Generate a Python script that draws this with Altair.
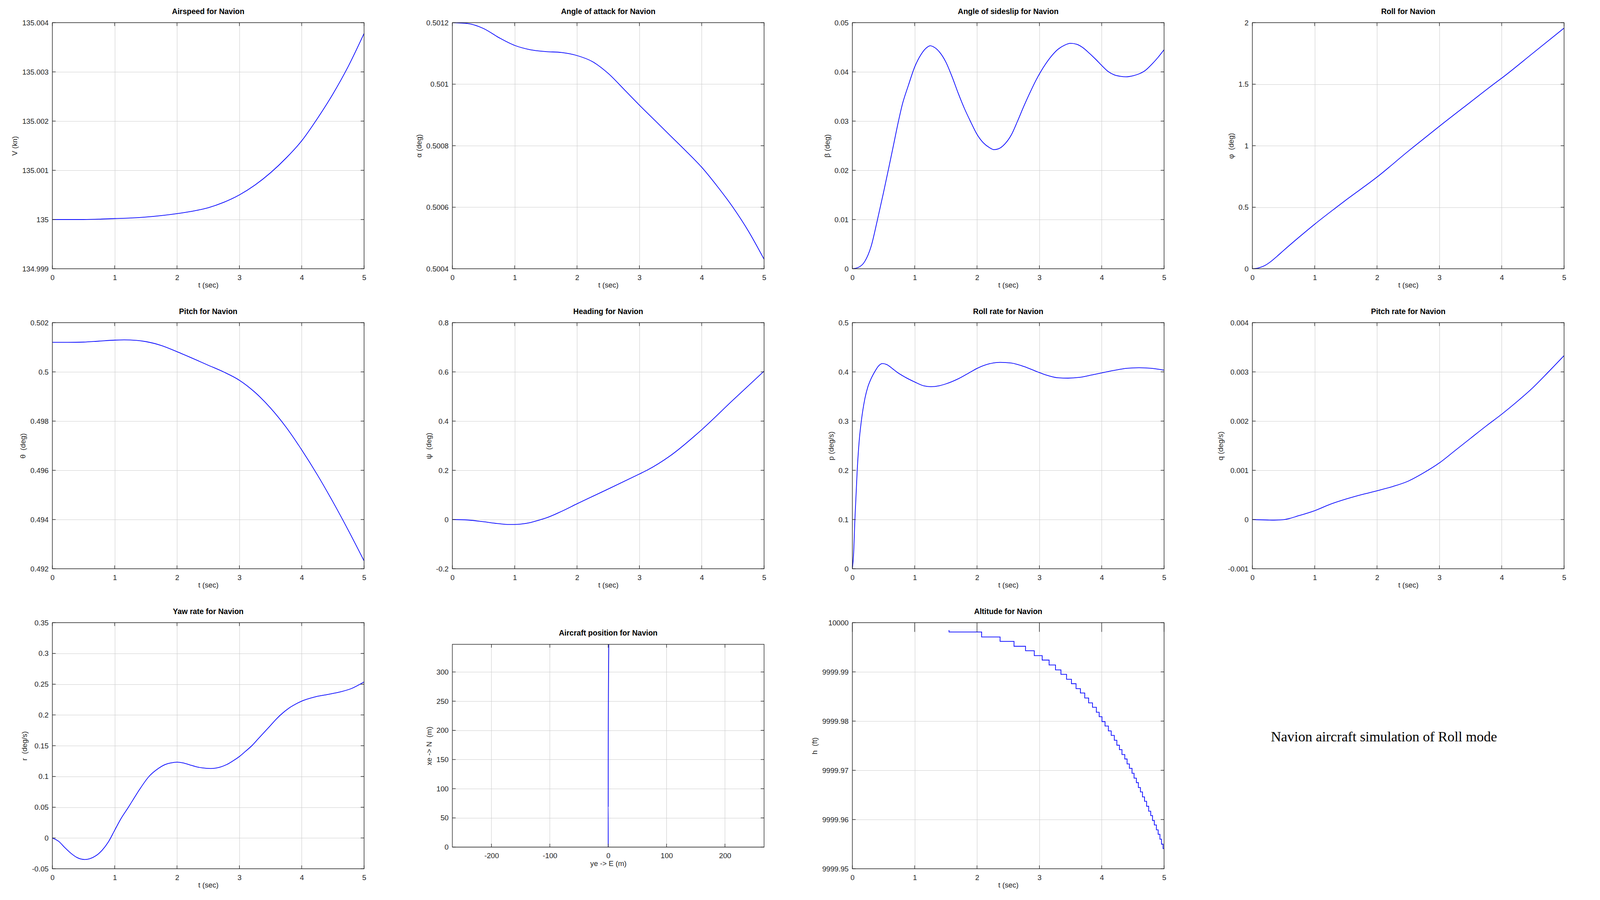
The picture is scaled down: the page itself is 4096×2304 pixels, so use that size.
import altair as alt
import pandas as pd

# ---------------- layout constants (output pixels) ----------------
W = 798          # plot width
H = 630          # plot height
POS_TOP = 55.5   # position panel box top inside its cell
POS_BOT = 574.5  # position panel box bottom inside its cell
TK = 8.5         # inward tick length
BLUE = "#0000ff"
FRAME = "#262626"
GRID = "#cccccc"
FONT = "Liberation Sans"
TITLE_OFFSET = 9
LABEL_OVERHANG = 9.35

# ---------------- data ----------------
T_TICKS = [0, 1, 2, 3, 4, 5]

air_t = [0, 0.5, 1.0, 1.25, 1.5, 1.75, 2.0, 2.25, 2.5, 2.75, 3.0, 3.25, 3.5, 3.75, 4.0, 4.25, 4.5, 4.75, 5.0]
air_v = [135.0, 135.0, 135.00002, 135.00003, 135.00005, 135.00008, 135.00012, 135.00017, 135.00024,
         135.00035, 135.00050, 135.00070, 135.00095, 135.00125, 135.00160, 135.00205, 135.00255,
         135.00312, 135.00378]
air_ticks = [134.999, 135.0, 135.001, 135.002, 135.003, 135.004]

aoa_t = [0, 0.25, 0.5, 0.75, 1.0, 1.25, 1.5, 1.75, 2.0, 2.25, 2.5, 2.75, 3.0, 3.25, 3.5, 3.75, 4.0,
         4.25, 4.5, 4.75, 5.0]
aoa = [0.50120, 0.501197, 0.501181, 0.501151, 0.501126, 0.501112, 0.501106, 0.501103, 0.501093,
       0.501073, 0.501035, 0.500984, 0.500932, 0.500882, 0.500832, 0.500782, 0.50073, 0.500668,
       0.5006, 0.500522, 0.500431]
aoa_ticks = [0.5004, 0.5006, 0.5008, 0.501, 0.5012]

beta_t = [0, 0.1, 0.2, 0.3, 0.4, 0.5, 0.584, 0.65, 0.74, 0.8, 0.9, 1.0, 1.1, 1.2, 1.25, 1.3,
          1.4, 1.5, 1.6, 1.7, 1.8, 1.9, 2.0, 2.1, 2.2, 2.27, 2.35, 2.45, 2.55, 2.65, 2.75, 2.85,
          2.95, 3.02, 3.1, 3.2, 3.3, 3.4, 3.5, 3.6, 3.7, 3.8, 3.9, 4.0, 4.1, 4.2, 4.3, 4.39, 4.5,
          4.6, 4.7, 4.8, 4.9, 5.0]
beta = [0, 0.0003, 0.0015, 0.0045, 0.0098, 0.0155, 0.0205, 0.0245, 0.0300, 0.0333, 0.0373, 0.0410,
        0.0435, 0.0450, 0.0453, 0.0451, 0.0440, 0.0420, 0.0390, 0.0356, 0.0325, 0.0298, 0.0273,
        0.0256, 0.0246, 0.0242, 0.0244, 0.0254, 0.0272, 0.0300, 0.0330, 0.0358, 0.0384, 0.0400,
        0.0416, 0.0433, 0.0446, 0.0454, 0.0458, 0.0456, 0.0449, 0.0438, 0.0426, 0.0413, 0.0401,
        0.0394, 0.0391, 0.0390, 0.0392, 0.0396, 0.0403, 0.0415, 0.0429, 0.0445]
beta_ticks = [0, 0.01, 0.02, 0.03, 0.04, 0.05]

phi_t = [0, 0.1, 0.2, 0.3, 0.4, 0.5, 0.75, 1.0, 1.35, 1.5, 2.0, 2.5, 2.61, 3.0, 3.5, 3.87, 4.0, 4.5, 5.0]
phi = [0, 0.007, 0.026, 0.06, 0.103, 0.148, 0.257, 0.362, 0.5, 0.558, 0.745, 0.955, 1.0, 1.158,
       1.355, 1.5, 1.549, 1.752, 1.956]
phi_ticks = [0, 0.5, 1, 1.5, 2]

theta_t = [0, 0.25, 0.5, 0.75, 1.0, 1.15, 1.35, 1.5, 1.75, 2.0, 2.25, 2.5, 2.745, 3.0, 3.25, 3.5,
           3.75, 4.0, 4.25, 4.5, 4.75, 5.0]
theta = [0.50120, 0.50120, 0.50121, 0.50125, 0.50129, 0.50130, 0.50128, 0.50123, 0.50107, 0.50082,
         0.50055, 0.50027, 0.50000, 0.49966, 0.49917, 0.49853, 0.49775, 0.49683, 0.49582, 0.49472,
         0.49355, 0.49232]
theta_ticks = [0.492, 0.494, 0.496, 0.498, 0.5, 0.502]

psi_t = [0, 0.25, 0.5, 0.75, 0.9, 1.0, 1.1, 1.25, 1.41, 1.5, 1.75, 2.0, 2.5, 3.0, 3.12, 3.5, 4.0,
         4.5, 5.0]
psi = [0, -0.002, -0.009, -0.017, -0.020, -0.020, -0.0185, -0.0125, -0.001, 0.006, 0.033, 0.064,
       0.124, 0.185, 0.2, 0.26, 0.365, 0.485, 0.603]
psi_ticks = [-0.2, 0, 0.2, 0.4, 0.6, 0.8]

p_t = [0, 0.02, 0.041, 0.078, 0.11, 0.144, 0.2, 0.25, 0.3, 0.358, 0.42, 0.48, 0.55, 0.65, 0.71,
       0.85, 1.0, 1.15, 1.26, 1.4, 1.5, 1.7, 1.9, 2.0, 2.2, 2.37, 2.55, 2.75, 2.97, 3.1, 3.3, 3.46,
       3.65, 3.85, 4.0, 4.2, 4.4, 4.6, 4.8, 5.0]
p = [0, 0.03, 0.1, 0.2, 0.26, 0.3, 0.345, 0.37, 0.386, 0.4, 0.412, 0.417, 0.415, 0.406, 0.4, 0.389,
     0.3795, 0.3715, 0.370, 0.372, 0.3756, 0.386, 0.4, 0.407, 0.4165, 0.4194, 0.418, 0.411, 0.4,
     0.394, 0.388, 0.3873, 0.389, 0.394, 0.398, 0.403, 0.4072, 0.4085, 0.4072, 0.4034]
p_ticks = [0, 0.1, 0.2, 0.3, 0.4, 0.5]

q_t = [0, 0.25, 0.35, 0.5, 0.75, 1.0, 1.25, 1.5, 1.75, 2.0, 2.25, 2.5, 2.75, 3.0, 3.25, 3.5,
       3.75, 4.0, 4.25, 4.5, 4.75, 5.0]
q = [0, -0.00001, -0.000012, -0.000003, 0.00008, 0.00018, 0.00031, 0.000415, 0.000505, 0.000584,
     0.00067, 0.00078, 0.00095, 0.00115, 0.0014, 0.00165, 0.0019, 0.00214, 0.0024, 0.00268,
     0.003, 0.00333]
q_ticks = [-0.001, 0, 0.001, 0.002, 0.003, 0.004]

r_t = [0, 0.1, 0.2, 0.3, 0.4, 0.52, 0.6, 0.7, 0.8, 0.9, 1.0, 1.1, 1.22, 1.3, 1.4, 1.55, 1.7, 1.8,
       1.9, 2.0, 2.1, 2.2, 2.3, 2.4, 2.54, 2.7, 2.8, 2.9, 3.0, 3.1, 3.2, 3.3, 3.4, 3.5, 3.6, 3.66,
       3.8, 3.9, 4.0, 4.2, 4.4, 4.6, 4.8, 5.0]
r = [0, -0.0053, -0.0156, -0.025, -0.032, -0.035, -0.0337, -0.0288, -0.0197, -0.0062, 0.0126,
     0.0313, 0.05, 0.063, 0.079, 0.1, 0.113, 0.119, 0.122, 0.1233, 0.122, 0.119, 0.116, 0.114,
     0.113, 0.1155, 0.1195, 0.1255, 0.1324, 0.141, 0.15, 0.161, 0.172, 0.183, 0.194, 0.2, 0.2115,
     0.2175, 0.2225, 0.229, 0.233, 0.237, 0.243, 0.2536]
r_ticks = [-0.05, 0, 0.05, 0.1, 0.15, 0.2, 0.25, 0.3, 0.35]

pos_ye = [0, -0.02, 0.02, 0.17, 0.5, 1.0]
pos_xe = [0, 69, 139, 208, 278, 347]
pos_x_ticks = [-200, -100, 0, 100, 200]
pos_y_ticks = [0, 50, 100, 150, 200, 250, 300]

alt_t0 = 1.551
alt_h0 = 9999.9985
alt_step_t = [1.551, 2.074, 2.370, 2.593, 2.778, 2.918, 3.045, 3.156, 3.259, 3.346, 3.436, 3.514,
              3.588, 3.658, 3.728, 3.790, 3.852, 3.914, 3.959, 4.004, 4.053, 4.107, 4.152, 4.202,
              4.243, 4.284, 4.325, 4.370, 4.407, 4.444, 4.486, 4.519, 4.556, 4.588, 4.621, 4.654,
              4.687, 4.720, 4.753, 4.786, 4.815, 4.844, 4.877, 4.905, 4.934, 4.959, 4.984]
alt_step_h = [9999.9981, 9999.9971, 9999.9962, 9999.9952, 9999.9943, 9999.9933, 9999.9924,
              9999.9914, 9999.9904, 9999.9895, 9999.9885, 9999.9876, 9999.9866, 9999.9857,
              9999.9847, 9999.9837, 9999.9828, 9999.9818, 9999.9809, 9999.9799, 9999.9790,
              9999.9780, 9999.9771, 9999.9761, 9999.9751, 9999.9742, 9999.9732, 9999.9723,
              9999.9713, 9999.9704, 9999.9694, 9999.9684, 9999.9675, 9999.9665, 9999.9656,
              9999.9646, 9999.9637, 9999.9627, 9999.9617, 9999.9608, 9999.9598, 9999.9589,
              9999.9579, 9999.9570, 9999.9560, 9999.9550, 9999.9541]
alt_t_end = 5.0
alt_ticks = [9999.95, 9999.96, 9999.97, 9999.98, 9999.99, 10000]

NOTE = "Navion aircraft simulation of Roll mode"

LABEL_EXPR = "replace(format(datum.value, '~g'), '\u2212', '-')"


def panel(title, xs_, ys_, ydom, yticks, ytitle, xdom=(0, 5), xticks=T_TICKS,
          xtitle="t (sec)", step=False, top_tick=TK, ytop=0.0, ybot=float(H)):
    inset = ytop > 0
    n = len(xs_)
    df = pd.DataFrame({"x": xs_, "y": ys_, "i": list(range(n))})
    xsc = alt.Scale(domain=list(xdom), nice=False, zero=False)
    if inset:
        ysc = alt.Scale(domain=list(ydom), nice=False, zero=False, range=[ybot, ytop])
        xax = alt.Axis(values=list(xticks), title=xtitle, labelExpr=LABEL_EXPR,
                       grid=False, offset=-(H - ybot))
    else:
        ysc = alt.Scale(domain=list(ydom), nice=False, zero=False)
        xax = alt.Axis(values=list(xticks), title=xtitle, labelExpr=LABEL_EXPR)
    yax = alt.Axis(values=list(yticks), title=ytitle, labelExpr=LABEL_EXPR)
    X = alt.X("x:Q", scale=xsc, axis=xax)
    Y = alt.Y("y:Q", scale=ysc, axis=yax)
    ytk = pd.DataFrame({"y": list(yticks)})
    xtk = pd.DataFrame({"x": list(xticks)})

    layers = []
    if inset:
        layers.append(alt.Chart(xtk).mark_rule(color=GRID, strokeWidth=1.1).encode(
            x=X, y=alt.value(ytop), y2=alt.value(ybot)))
    layers.append(alt.Chart(df).mark_line(
        color=BLUE, strokeWidth=1.8, clip=True,
        interpolate="step-after" if step else "monotone",
    ).encode(x=X, y=Y, order=alt.Order("i:Q")))
    rule = dict(color=FRAME, strokeWidth=1.4)
    layers.append(alt.Chart(ytk).mark_rule(**rule).encode(
        y=Y, x=alt.value(0), x2=alt.value(TK)))
    layers.append(alt.Chart(ytk).mark_rule(**rule).encode(
        y=Y, x=alt.value(W - TK), x2=alt.value(W)))
    layers.append(alt.Chart(xtk).mark_rule(**rule).encode(
        x=X, y=alt.value(ybot - TK), y2=alt.value(ybot)))
    layers.append(alt.Chart(xtk).mark_rule(**rule).encode(
        x=X, y=alt.value(ytop), y2=alt.value(ytop + top_tick)))
    layers.append(alt.Chart(pd.DataFrame({"f": [0]})).mark_rect(
        fill="transparent", stroke=FRAME, strokeWidth=1.4
    ).encode(x=alt.value(0), x2=alt.value(W), y=alt.value(ytop), y2=alt.value(ybot)))

    toff = TITLE_OFFSET if not inset else TITLE_OFFSET + LABEL_OVERHANG - ytop
    return alt.layer(*layers).properties(
        width=W, height=H,
        title=alt.TitleParams(title, anchor="middle", frame="group", offset=toff),
    )


alt_t = [alt_t0] + alt_step_t + [alt_t_end]
alt_h = [alt_h0] + alt_step_h + [alt_step_h[-1]]

panels = [
    panel("Airspeed for Navion", air_t, air_v, (134.999, 135.004), air_ticks, "V (kn)"),
    panel("Angle of attack for Navion", aoa_t, aoa, (0.5004, 0.5012), aoa_ticks, "α (deg)"),
    panel("Angle of sideslip for Navion", beta_t, beta, (0, 0.05), beta_ticks, "β (deg)"),
    panel("Roll for Navion", phi_t, phi, (0, 2), phi_ticks, "φ\u00a0 (deg)"),
    panel("Pitch for Navion", theta_t, theta, (0.492, 0.502), theta_ticks, "θ\u00a0 (deg)"),
    panel("Heading for Navion", psi_t, psi, (-0.2, 0.8), psi_ticks, "ψ\u00a0 (deg)"),
    panel("Roll rate for Navion", p_t, p, (0, 0.5), p_ticks, "p (deg/s)"),
    panel("Pitch rate for Navion", q_t, q, (-0.001, 0.004), q_ticks, "q (deg/s)"),
    panel("Yaw rate for Navion", r_t, r, (-0.05, 0.35), r_ticks, "r\u00a0 (deg/s)"),
    panel("Aircraft position for Navion", pos_ye, pos_xe, (0, 347.4), pos_y_ticks,
          "xe -> N\u00a0 (m)", xdom=(-267, 267), xticks=pos_x_ticks, xtitle="ye -> E (m)",
          ytop=POS_TOP, ybot=POS_BOT),
    panel("Altitude for Navion", alt_t, alt_h, (9999.95, 10000), alt_ticks, "h\u00a0 (ft)",
          step=True, top_tick=23.6),
]

note = alt.Chart(pd.DataFrame({"label": [NOTE]})).mark_text(
    font="Liberation Serif", fontSize=36, color="#000000", align="center", baseline="middle"
).encode(text="label:N", x=alt.value(337), y=alt.value(293)).properties(width=W, height=H)
panels.append(note)

chart = alt.concat(*panels, columns=4).properties(
    bounds="flush",
    spacing={"row": 138, "column": 226},
    padding={"left": 20, "top": 11, "right": 6, "bottom": 6},
).configure_view(
    stroke="transparent"
).configure_axis(
    labelFont=FONT, labelFontSize=18.7, labelColor="#262626",
    titleFont=FONT, titleFontSize=18.7, titleColor="#262626", titleFontWeight="normal",
    gridColor=GRID, gridWidth=1.1, domain=False, ticks=False, tickSize=0,
    labelFlush=False, labelOverlap=False,
).configure_axisX(
    labelPadding=13, titlePadding=1
).configure_axisY(
    labelPadding=10, titlePadding=8.5
).configure_title(
    font=FONT, fontSize=19.5, fontWeight="bold", color="#000000"
)

chart.save("out.html", embed_options={"renderer": "svg", "actions": False})
